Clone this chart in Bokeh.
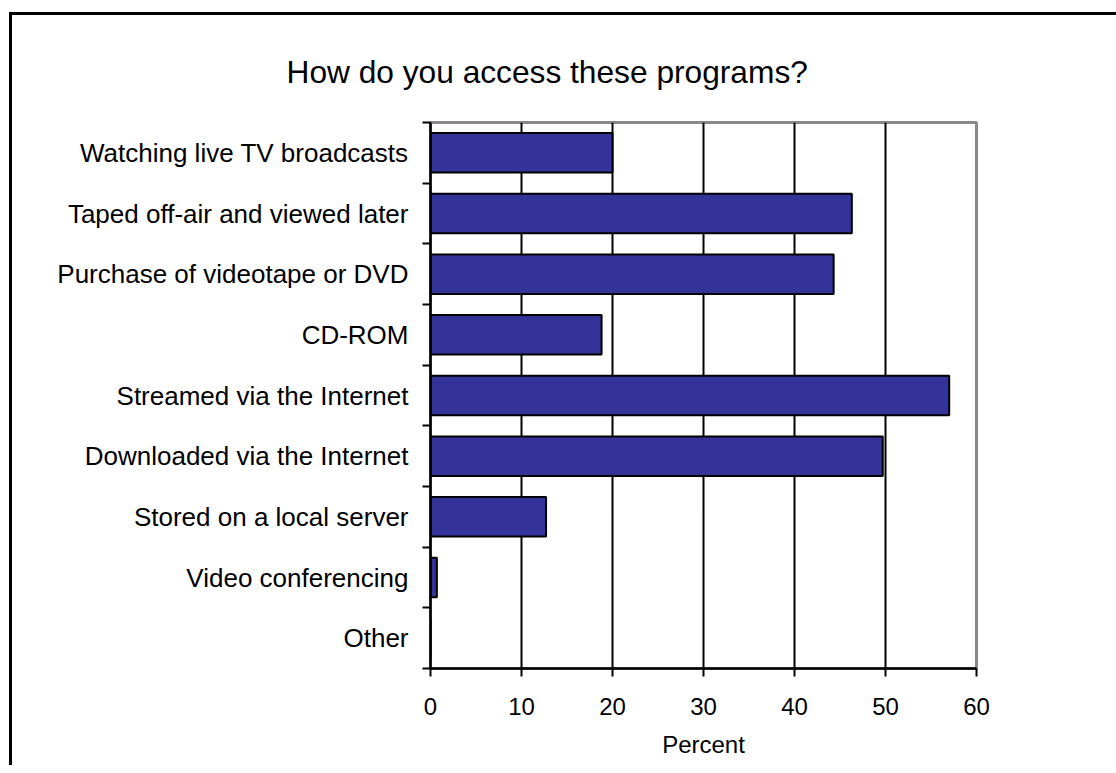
from bokeh.plotting import figure
from bokeh.models import Range1d, FixedTicker
from bokeh.embed import file_html
from bokeh.resources import INLINE

title_text = "How do you access these programs?"
categories = [
    "Watching live TV broadcasts",
    "Taped off-air and viewed later",
    "Purchase of videotape or DVD",
    "CD-ROM",
    "Streamed via the Internet",
    "Downloaded via the Internet",
    "Stored on a local server",
    "Video conferencing",
    "Other",
]
percent = [20.0, 46.3, 44.3, 18.8, 57.0, 49.7, 12.7, 0.7, 0.0]
x_ticks = [0, 10, 20, 30, 40, 50, 60]

n = len(categories)
ypos = [n - 0.5 - i for i in range(n)]

FONT = "Liberation Sans"
OX, OY, BW = 9, 12, 3  # outer border position and width
CX, CY = OX + BW, OY + BW  # canvas origin in page
W, H = 1130 - CX, 768 - CY
FL, FR, FT, FB = 430, 976, 122, 668  # frame edges in page pixels

p = figure(width=W, height=H, output_backend="svg", toolbar_location=None,
           x_range=Range1d(0, 60), y_range=Range1d(0, n),
           min_border_left=FL - CX, min_border_right=W - (FR - CX),
           min_border_top=FT - CY, min_border_bottom=H - (FB - CY))
p.margin = (OY, 0, 0, OX)
p.styles = {"border-top": f"{BW}px solid black", "border-left": f"{BW}px solid black"}

p.title.text = title_text
p.title.text_font = FONT
p.title.text_font_size = "31.7px"
p.title.text_font_style = "normal"
p.title.text_color = "black"
p.title.align = "left"
p.title.offset = 286 - FL
p.title.standoff = 66

p.hbar(y=ypos, right=percent, left=0, height=0.65, fill_color="#333399",
       line_color="black", line_width=2)

p.outline_line_color = "#888888"
p.outline_line_width = 3

# x axis
xa = p.xaxis[0]
xa.ticker = FixedTicker(ticks=x_ticks)
xa.axis_line_color = "black"
xa.axis_line_width = 2.5
xa.major_tick_line_color = "black"
xa.major_tick_line_width = 2
xa.major_tick_out = 8
xa.major_tick_in = 0
xa.minor_tick_line_color = None
xa.major_label_text_font = FONT
xa.major_label_text_font_size = "24px"
xa.major_label_text_color = "black"
xa.major_label_standoff = 21
xa.axis_label = "Percent"
xa.axis_label_text_font = FONT
xa.axis_label_text_font_size = "24px"
xa.axis_label_text_font_style = "normal"
xa.axis_label_text_color = "black"
xa.axis_label_standoff = 13

# y axis
ya = p.yaxis[0]
ya.ticker = FixedTicker(ticks=ypos, minor_ticks=list(range(n + 1)))
ya.major_label_overrides = {y: c for y, c in zip(ypos, categories)}
ya.axis_line_color = "black"
ya.axis_line_width = 2.5
ya.major_tick_line_color = None
ya.major_tick_out = 0
ya.major_tick_in = 0
ya.minor_tick_line_color = "black"
ya.minor_tick_line_width = 2
ya.minor_tick_out = 8
ya.minor_tick_in = 0
ya.major_label_text_font = FONT
ya.major_label_text_font_size = "26px"
ya.major_label_text_color = "black"
ya.major_label_standoff = 14

p.xgrid.ticker = FixedTicker(ticks=x_ticks[1:-1])
p.xgrid.grid_line_color = "black"
p.xgrid.grid_line_width = 2
p.ygrid.grid_line_color = None

open("out.html", "w").write(file_html(p, INLINE))
